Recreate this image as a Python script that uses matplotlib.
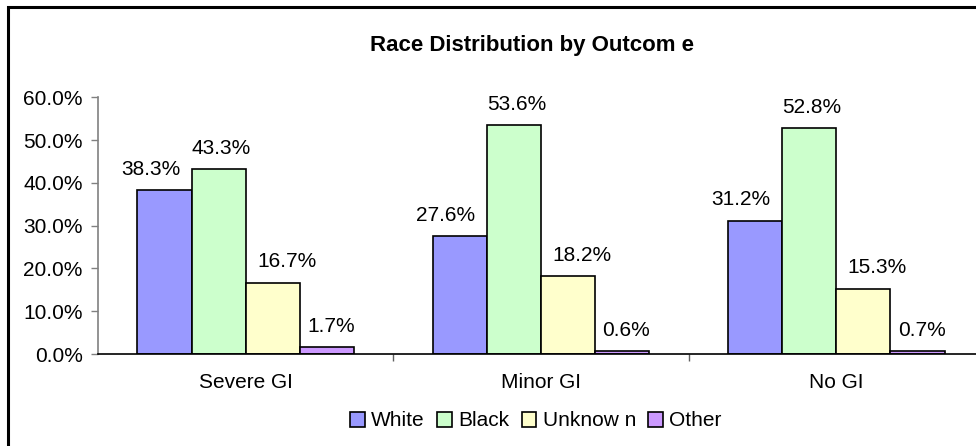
import matplotlib
matplotlib.use("Agg")
import matplotlib.pyplot as plt
import numpy as np
from matplotlib.patches import Rectangle
from matplotlib.ticker import PercentFormatter

plt.rcParams['font.family'] = ['Liberation Sans', 'DejaVu Sans']

# Datos (porcentajes)
outcomes = ['Severe GI', 'Minor GI', 'No GI']
races = ['White', 'Black', 'Unknow n', 'Other']
white = [38.3, 27.6, 31.2]
black = [43.3, 53.6, 52.8]
unknown = [16.7, 18.2, 15.3]
other = [1.7, 0.6, 0.7]
yticks = [0, 10, 20, 30, 40, 50, 60]

series = [white, black, unknown, other]
colors = ['#9999FF', '#CCFFCC', '#FFFFCC', '#CC99FF']
label_dx = [-10, 2, 10, 3]  # desplazamiento horizontal de etiquetas (pt)

fig = plt.figure(figsize=(9.76, 4.46), dpi=100)
ax = fig.add_axes([98 / 976, 1 - 354 / 446, 886 / 976, (354 - 97.3) / 446])

x = np.arange(len(outcomes))
w = 0.1834
for i, (vals, col) in enumerate(zip(series, colors)):
    xs = x + (i - 1.5) * w
    bars = ax.bar(xs, vals, width=w, color=col, edgecolor='black',
                  linewidth=1.2, label=races[i])
    for b, v in zip(bars, vals):
        ax.annotate(f'{v:.1f}%', (b.get_x() + b.get_width() / 2, v),
                    xytext=(label_dx[i], 8), textcoords='offset points',
                    ha='center', va='bottom', fontsize=15)

ax.set_xlim(-0.5, 2.5)
ax.set_ylim(0, 60)
ax.set_yticks(yticks)
ax.yaxis.set_major_formatter(PercentFormatter(decimals=1))
ax.tick_params(axis='y', labelsize=15, length=5, width=1, color='#808080', pad=6)

ax.set_xticks(x)
ax.set_xticklabels(outcomes)
ax.set_xticks([0.5, 1.5], minor=True)
ax.tick_params(axis='x', which='major', length=0, labelsize=15, pad=14)
ax.tick_params(axis='x', which='minor', length=5, width=1, color='#606060')

for s in ['top', 'right']:
    ax.spines[s].set_visible(False)
ax.spines['left'].set_color('#808080')
ax.spines['left'].set_linewidth(1.2)
ax.spines['bottom'].set_color('black')
ax.spines['bottom'].set_linewidth(1.2)

fig.text(532 / 976, 1 - 46 / 446, 'Race Distribution by Outcom e',
         ha='center', va='center', fontsize=16, fontweight='bold')

leg = fig.legend(loc='center', bbox_to_anchor=(536 / 976, 1 - 421 / 446),
                 ncol=4, frameon=False, fontsize=15, handlelength=0.7,
                 handleheight=0.7, handletextpad=0.3, columnspacing=0.6,
                 borderpad=0)

# Borde del area del grafico
fig.patches.append(Rectangle((8 / 976, -0.1), 1.0, 1.1 - 7 / 446,
                             transform=fig.transFigure, fill=False,
                             edgecolor='black', linewidth=2.2))

fig.savefig('out.png', dpi=100)
